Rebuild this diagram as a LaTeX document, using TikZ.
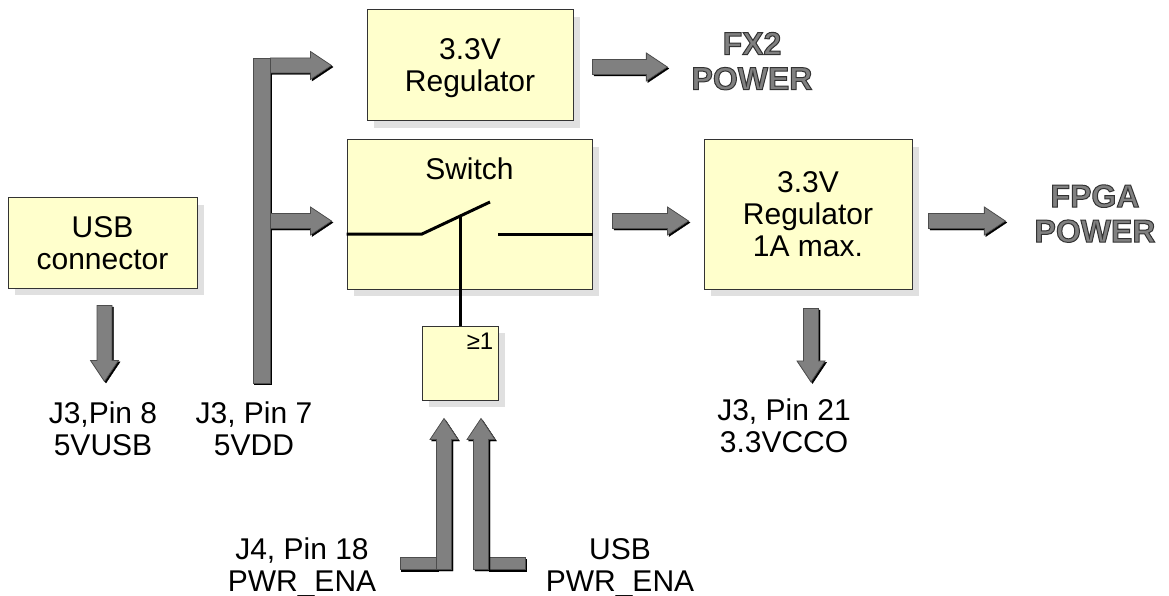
\documentclass[tikz,border=0pt]{standalone}
\usepackage{fontspec}
\setmainfont{Liberation Sans}
\usetikzlibrary{calc}
\definecolor{boxfill}{HTML}{FFFFCC}
\definecolor{boxborder}{HTML}{333333}
\definecolor{boxshadow}{HTML}{E0E0E0}
\definecolor{fatfill}{HTML}{808080}
\definecolor{fatborder}{HTML}{4D4D4D}
\tikzset{
  lbl/.style={align=center, inner sep=0pt, text depth=0pt, font=\fontsize{30}{32}\selectfont},
  box/.style={lbl, rectangle, fill=boxfill, draw=boxborder, line width=1pt,
    preaction={fill=boxshadow, draw=none, transform canvas={shift={(7pt,-7pt)}}}},
  fat/.style={fill=fatfill, draw=fatborder, line width=0.8pt,
    preaction={fill=black, draw=black, transform canvas={shift={(1.5pt,-1.5pt)}}}},
  power/.style={lbl, text=fatfill, font=\fontsize{32}{35}\selectfont\bfseries},
  wire/.style={line width=3pt, draw=black}
}
% block arrow from #1 to #2
\newcommand\fatarrow[2]{%
  \coordinate (fa-s) at (#1);
  \coordinate (fa-e) at (#2);
  \coordinate (fa-h) at ($(fa-e)!21pt!(fa-s)$);
  \path[fat] ($(fa-s)!7.5pt!90:(fa-e)$) -- ($(fa-h)!7.5pt!90:(fa-e)$) -- ($(fa-h)!14pt!90:(fa-e)$) -- (fa-e)
    -- ($(fa-h)!14pt!-90:(fa-e)$) -- ($(fa-h)!7.5pt!-90:(fa-e)$) -- ($(fa-s)!7.5pt!-90:(fa-e)$) -- cycle;}
\newcommand\outlined{\special{pdf:literal direct 0.2 0.2 0.2 RG 1 w 2 Tr}}

\begin{document}
\begin{tikzpicture}[x=1pt, y=-1pt]
\useasboundingbox (0,0) rectangle (1169,596);

% blocks
\node[box, minimum width=189pt, minimum height=90pt] (usb) at (102.5,243) {USB\\connector};
\node[box, minimum width=206pt, minimum height=111pt] (reg33) at (470,65.5) {3.3V\\Regulator};
\node[box, minimum width=245pt, minimum height=149pt] (switch) at (469.5,214.5) {};
\node[box, minimum width=208pt, minimum height=149pt] (reg1a) at (808,214.5) {3.3V\\Regulator\\1A max.};
\node[box, minimum width=76pt, minimum height=74pt] (gate) at (460,363) {};
\node[lbl] (switchtxt) at (469.5,168.5) {Switch};
\node[lbl, font=\fontsize{24}{26}\selectfont, anchor=north east] (gatetxt) at ($(gate.north east)+(-5,7)$) {≥1};

% switch contacts
\coordinate (pivot) at (422,234);
\coordinate (lever) at (490,202);
\coordinate (contact) at (498,234);
\coordinate (leverjoint) at ($(pivot)!0.56!(lever)$);
\draw[wire] (switch.west |- pivot) -- (pivot) -- (lever);
\draw[wire] (contact) -- (switch.east |- contact);
\draw[wire] (gate.north |- leverjoint) -- (gate.north);

% 5V bus
\node[fat, minimum width=17pt, minimum height=325pt, inner sep=0pt] (bus) at (261.5,220.5) {};
\coordinate (mainrow) at (0,221);
\fatarrow{bus.east |- reg33.west}{$(switch.west |- reg33.west)+(-15,0)$}
\fatarrow{bus.east |- mainrow}{$(switch.west |- mainrow)+(-15,0)$}

% power outputs
\node[power] (fx2) at (752,61) {\outlined FX2\\POWER};
\node[power] (fpga) at (1095,213.5) {\outlined FPGA\\POWER};
\fatarrow{$(reg33.east)+(19,1.5)$}{$(fx2.west |- reg33.east)+(-24,1.5)$}
\fatarrow{$(switch.east |- mainrow)+(20,0)$}{$(reg1a.west |- mainrow)+(-15,0)$}
\fatarrow{$(reg1a.east |- mainrow)+(16,0)$}{$(fpga.west |- mainrow)+(-29,0)$}

% pins
\node[lbl] (pin8) at (103,428.5) {J3,Pin 8\\5VUSB};
\node[lbl] (pin7) at (254,428.5) {J3, Pin 7\\5VDD};
\node[lbl] (pin21) at (784,426) {J3, Pin 21\\3.3VCCO};
\fatarrow{$(usb.south)+(2,17)$}{$(usb.south |- pin8.north)+(2,-20)$}
\fatarrow{$(reg1a.south)+(3,19)$}{$(reg1a.south |- pin21.north)+(3,-17)$}

% enable inputs
\node[lbl] (j4) at (302,565) {J4, Pin 18\\PWR\_ENA};
\node[lbl] (usbena) at (620,565) {USB\\PWR\_ENA};
\coordinate (kneeA) at ($(gate.south)+(-16,169)$);
\coordinate (kneeB) at ($(gate.south)+(21,169)$);
\draw[fat] ($(kneeA)+(-44,-12)$) rectangle ($(kneeA)+(-7,0)$);
\draw[fat] ($(kneeB)+(7,-12)$) rectangle ($(kneeB)+(44,0)$);
\fatarrow{kneeA}{$(gate.south -| kneeA)+(0,18)$}
\fatarrow{kneeB}{$(gate.south -| kneeB)+(0,18)$}

\end{tikzpicture}
\end{document}
